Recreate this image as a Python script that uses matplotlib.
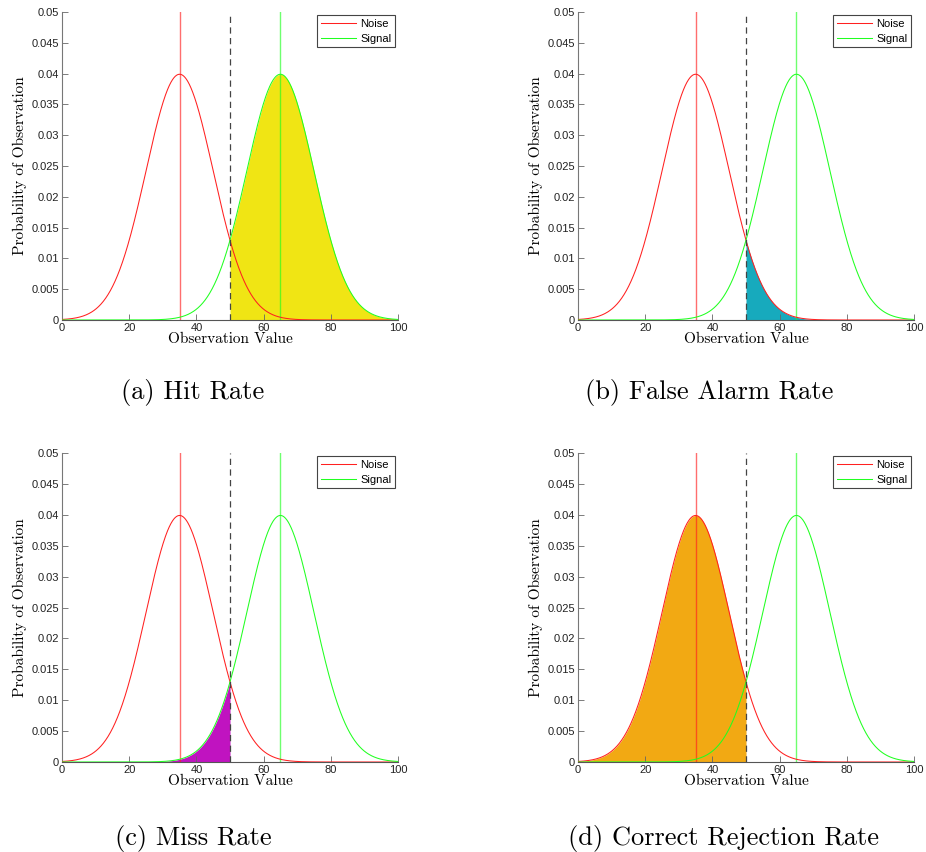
import numpy as np
import matplotlib
matplotlib.use("Agg")
import matplotlib.pyplot as plt

# ---- data ----
series_names = ["Noise", "Signal"]
series_means = [35, 65]
series_sd = [10, 10]
criterion = 50
x_range = [0, 100]
captions = ["(a) Hit Rate", "(b) False Alarm Rate", "(c) Miss Rate", "(d) Correct Rejection Rate"]
# which distribution is shaded and on which side of the criterion
shade_series = ["Signal", "Noise", "Signal", "Noise"]
shade_side = ["above", "above", "below", "below"]
shade_colors = ["#f0e514", "#17aabd", "#c013c0", "#f2a913"]
line_colors = {"Noise": "#ff2020", "Signal": "#20ff20"}
xticks = [0, 20, 40, 60, 80, 100]
yticks = [0, 0.005, 0.01, 0.015, 0.02, 0.025, 0.03, 0.035, 0.04, 0.045, 0.05]
ytick_labels = ["0", "0.005", "0.01", "0.015", "0.02", "0.025", "0.03", "0.035", "0.04", "0.045", "0.05"]

x = np.linspace(x_range[0], x_range[1], 1001)


def pdf(mu, sd):
    return np.exp(-0.5 * ((x - mu) / sd) ** 2) / (sd * np.sqrt(2 * np.pi))


curves = {n: pdf(m, s) for n, m, s in zip(series_names, series_means, series_sd)}

fig = plt.figure(figsize=(9.26, 8.52), dpi=100)

W, H = 926, 852
panels = [(62, 12, 398, 320), (578, 12, 914, 320), (62, 453, 398, 762), (578, 453, 914, 762)]
cap_pos = [(193, 393), (709, 393), (193, 838), (723, 838)]

for i, (l, t, r, b) in enumerate(panels):
    ax = fig.add_axes([l / W, 1 - b / H, (r - l) / W, (b - t) / H])
    name = shade_series[i]
    y = curves[name]
    mask = x >= criterion if shade_side[i] == "above" else x <= criterion
    ax.fill_between(x[mask], 0, y[mask], color=shade_colors[i], lw=0, zorder=1)
    for n, m in zip(series_names, series_means):
        ax.plot(x, curves[n], color=line_colors[n], lw=0.75, label=n, zorder=3)
        ax.axvline(m, color=line_colors[n], lw=1.0, alpha=0.65, zorder=2)
    ax.axvline(criterion, color="#444444", lw=0.9, ls=(0, (5, 3.5)), zorder=4)

    ax.set_xlim(*x_range)
    ax.set_ylim(0, 0.05)
    ax.set_xticks(xticks)
    ax.set_yticks(yticks)
    ax.set_yticklabels(ytick_labels)
    for lab in ax.get_xticklabels() + ax.get_yticklabels():
        lab.set_fontfamily("Liberation Sans")
        lab.set_fontsize(8)
        lab.set_color("#222222")
    ax.tick_params(direction="in", length=4, width=0.6, color="#666666", pad=2)
    ax.spines["top"].set_visible(False)
    ax.spines["right"].set_visible(False)
    ax.spines["left"].set_color("#777777")
    ax.spines["bottom"].set_color("#555555")
    ax.spines["left"].set_linewidth(0.8)
    ax.spines["bottom"].set_linewidth(0.8)
    ax.set_xlabel("Observation Value", family="cmr10", fontsize=11, labelpad=0)
    ax.set_ylabel("Probability of Observation", family="cmr10", fontsize=11, labelpad=3)

    leg = ax.legend(loc="upper right", prop={"family": "Liberation Sans", "size": 8},
                    fancybox=False, framealpha=1, edgecolor="#444444",
                    borderpad=0.3, handlelength=3.2, handletextpad=0.35, labelspacing=0.45,
                    borderaxespad=0.3)
    leg.get_frame().set_linewidth(0.8)

    cx, cy = cap_pos[i]
    fig.text(cx / W, 1 - cy / H, captions[i], family="cmr10", fontsize=19,
             ha="center", va="center")

fig.savefig("out.png", dpi=100)
